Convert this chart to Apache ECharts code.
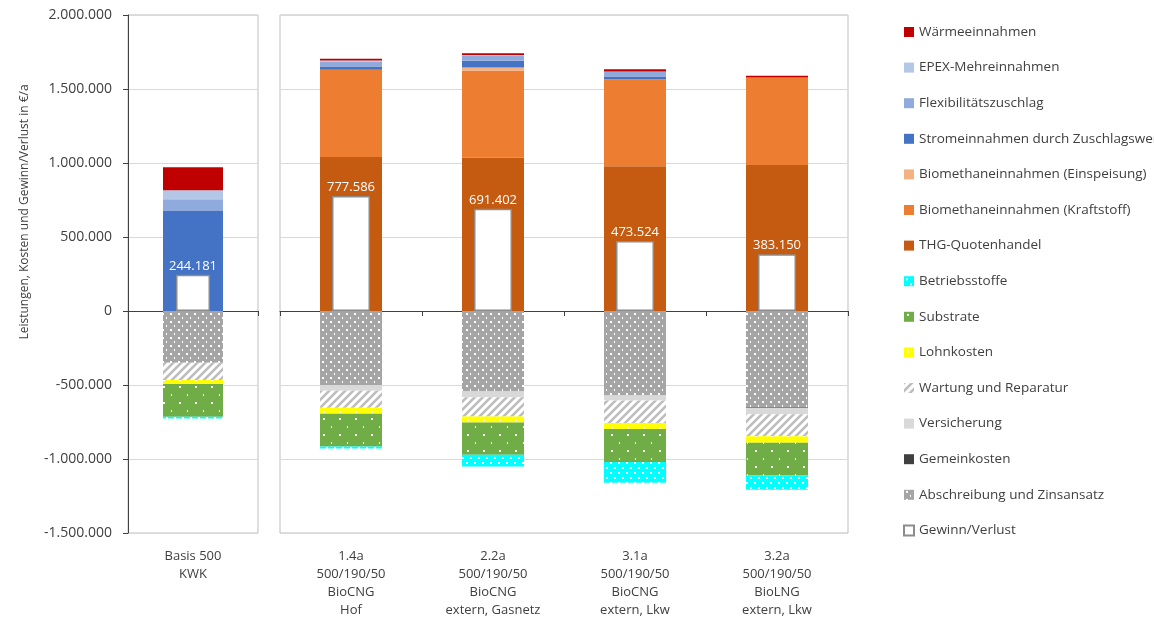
<!DOCTYPE html>
<html>
<head>
<meta charset="utf-8">
<script src="https://cdn.jsdelivr.net/npm/echarts@6/dist/echarts.min.js"></script>
<style>
  html, body { margin: 0; padding: 0; background: #fff; }
  #chart { width: 1154px; height: 620px; }
</style>
</head>
<body>
<div id="chart"></div>
<script>
// Kategorien: erste Säule im eigenen Diagrammbereich, die vier Varianten daneben
const categoriesBasis = ['Basis 500\nKWK'];
const categoriesVarianten = [
  '1.4a\n500/190/50\nBioCNG\nHof',
  '2.2a\n500/190/50\nBioCNG\nextern, Gasnetz',
  '3.1a\n500/190/50\nBioCNG\nextern, Lkw',
  '3.2a\n500/190/50\nBioLNG\nextern, Lkw'
];

// Werte in €/a, Reihenfolge: Basis, 1.4a, 2.2a, 3.1a, 3.2a
const thg          = [0, 1040000, 1035000, 978000, 987000];
const kraftstoff   = [0, 590000, 588000, 588000, 590000];
const einspeisung  = [0, 0, 23000, 0, 0];
const strom        = [676000, 22000, 45000, 18000, 0];
const flex         = [79000, 33000, 32000, 34000, 0];
const epex         = [61000, 8000, 7000, 0, 0];
const waerme       = [155000, 12000, 11000, 15000, 12000];

const abschreibung = [-349000, -500000, -540000, -571000, -652000];
const gemeinkosten = [0, 0, -3000, 0, -3000];
const versicherung = [0, -39000, -39000, -34000, -43000];
const wartung      = [-117000, -115000, -131000, -152000, -149000];
const lohnkosten   = [-27000, -41000, -41000, -41000, -43000];
const substrate    = [-221000, -220000, -217000, -222000, -222000];
const betrieb      = [-13000, -14000, -79000, -140000, -95000];

const gewinn       = [244181, 777586, 691402, 473524, 383150];

const yTicks = { min: -1500000, max: 2000000, step: 500000 };

// deutsche Tausendertrennung
function fmt(v) {
  const s = Math.abs(Math.round(v)).toString().replace(/\B(?=(\d{3})+(?!\d))/g, '.');
  return (v < 0 ? '-' : '') + s;
}

// Musterfüllungen (Punkte / Schraffur) wie im Excel-Original
function dotPattern(bg, w, h, dots) {
  const c = document.createElement('canvas');
  c.width = w; c.height = h;
  const ctx = c.getContext('2d');
  ctx.fillStyle = bg;
  ctx.fillRect(0, 0, w, h);
  ctx.fillStyle = '#ffffff';
  dots.forEach(d => ctx.fillRect(d[0], d[1], d[2], d[3]));
  return { image: c, repeat: 'repeat' };
}
function hatchPattern() {
  const c = document.createElement('canvas');
  c.width = 8; c.height = 8;
  const ctx = c.getContext('2d');
  ctx.fillStyle = '#ffffff';
  ctx.fillRect(0, 0, 8, 8);
  ctx.strokeStyle = '#BDBDBD';
  ctx.lineWidth = 2.6;
  [[0, 8, 8, 0], [-4, 4, 4, -4], [4, 12, 12, 4]].forEach(l => {
    ctx.beginPath(); ctx.moveTo(l[0], l[1]); ctx.lineTo(l[2], l[3]); ctx.stroke();
  });
  return { image: c, repeat: 'repeat' };
}

const fillAbschreibung = dotPattern('#A5A5A5', 8, 8, [[2, 1, 2, 2], [6, 5, 1, 2]]);
const fillSubstrate = dotPattern('#70AD47', 16, 16, [[3, 2, 2, 2], [11, 10, 1, 2]]);
const fillBetrieb = dotPattern('#00FFFF', 8, 10, [[2, 2, 2, 2], [6, 7, 2, 2]]);
const fillLohn = dotPattern('#FFFF00', 16, 8, [[3, 3, 2, 2]]);
const fillWartung = hatchPattern();

// Stapelreihenfolge: von der Nulllinie nach außen
const stackDefs = [
  ['THG-Quotenhandel', thg, '#C55A11'],
  ['Biomethaneinnahmen (Kraftstoff)', kraftstoff, '#ED7D31'],
  ['Biomethaneinnahmen (Einspeisung)', einspeisung, '#F4B183'],
  ['Stromeinnahmen durch Zuschlagswert', strom, '#4472C4'],
  ['Flexibilitätszuschlag', flex, '#8FAADC'],
  ['EPEX-Mehreinnahmen', epex, '#B4C7E7'],
  ['Wärmeeinnahmen', waerme, '#C00000'],
  ['Abschreibung und Zinsansatz', abschreibung, fillAbschreibung],
  ['Gemeinkosten', gemeinkosten, '#404040'],
  ['Versicherung', versicherung, '#D9D9D9'],
  ['Wartung und Reparatur', wartung, fillWartung],
  ['Lohnkosten', lohnkosten, fillLohn],
  ['Substrate', substrate, fillSubstrate],
  ['Betriebsstoffe', betrieb, fillBetrieb]
];

const legendOrder = [
  'Wärmeeinnahmen', 'EPEX-Mehreinnahmen', 'Flexibilitätszuschlag',
  'Stromeinnahmen durch Zuschlagswert', 'Biomethaneinnahmen (Einspeisung)',
  'Biomethaneinnahmen (Kraftstoff)', 'THG-Quotenhandel', 'Betriebsstoffe',
  'Substrate', 'Lohnkosten', 'Wartung und Reparatur', 'Versicherung',
  'Gemeinkosten', 'Abschreibung und Zinsansatz', 'Gewinn/Verlust'
];

const textColor = '#404040';
const font = 'Open Sans';

const series = [];
stackDefs.forEach(([name, values, color]) => {
  // linker Bereich (Basis)
  series.push({
    name, type: 'bar', stack: 'basis', xAxisIndex: 0, yAxisIndex: 0,
    barWidth: 60, itemStyle: { color }, data: values.slice(0, 1)
  });
  // rechter Bereich (Varianten)
  series.push({
    name, type: 'bar', stack: 'var', xAxisIndex: 1, yAxisIndex: 1,
    barWidth: 62, itemStyle: { color }, data: values.slice(1)
  });
});

const gewinnStyle = { color: '#ffffff', borderColor: '#8C8C8C', borderWidth: 1.5 };
const gewinnLabel = {
  show: true, position: 'top', distance: 2, color: '#ffffff',
  fontFamily: font, fontSize: 13, formatter: p => fmt(p.value)
};
series.push({
  name: 'Gewinn/Verlust', type: 'bar', xAxisIndex: 2, yAxisIndex: 0, z: 5,
  barWidth: 34, itemStyle: gewinnStyle, label: gewinnLabel, data: gewinn.slice(0, 1)
});
series.push({
  name: 'Gewinn/Verlust', type: 'bar', xAxisIndex: 3, yAxisIndex: 1, z: 5,
  barWidth: 38, itemStyle: gewinnStyle, label: gewinnLabel, data: gewinn.slice(1)
});

// Achse mit Nulllinie und Teilstrichen (ohne Beschriftung)
function zeroAxis(gridIndex, data) {
  return {
    type: 'category', gridIndex, data, position: 'bottom',
    axisLine: { onZero: true, lineStyle: { color: textColor, width: 1 } },
    axisTick: { show: true, length: 5, lineStyle: { color: textColor } },
    axisLabel: { show: false }, splitLine: { show: false }
  };
}
// Achse für Beschriftung unten und Gewinn-Säulen
function labelAxis(gridIndex, data) {
  return {
    type: 'category', gridIndex, data, position: 'bottom',
    axisLine: { show: false, onZero: false }, axisTick: { show: false },
    axisLabel: {
      interval: 0, margin: 14, color: textColor, fontFamily: font,
      fontSize: 13, lineHeight: 18
    },
    splitLine: { show: false }
  };
}

const chart = echarts.init(document.getElementById('chart'));
const option = {
  animation: false,
  tooltip: { trigger: 'axis', axisPointer: { type: 'shadow' } },
  legend: {
    data: legendOrder,
    orient: 'vertical',
    left: 903, top: 25, padding: 0,
    itemWidth: 10, itemHeight: 10, itemGap: 21.6,
    icon: 'rect',
    textStyle: { color: textColor, fontFamily: font, fontSize: 13.5, lineHeight: 14 }
  },
  grid: [
    { left: 128, top: 15, width: 130, height: 518, show: true, borderColor: '#BFBFBF', borderWidth: 1 },
    { left: 280, top: 15, width: 568, height: 518, show: true, borderColor: '#BFBFBF', borderWidth: 1 }
  ],
  xAxis: [
    zeroAxis(0, categoriesBasis),
    zeroAxis(1, categoriesVarianten),
    labelAxis(0, categoriesBasis),
    labelAxis(1, categoriesVarianten)
  ],
  yAxis: [
    {
      type: 'value', gridIndex: 0,
      min: yTicks.min, max: yTicks.max, interval: yTicks.step,
      name: 'Leistungen, Kosten und Gewinn/Verlust in €/a',
      nameLocation: 'middle', nameGap: 97,
      nameTextStyle: { color: textColor, fontFamily: font, fontSize: 12, padding: [0, 0, 0, 124] },
      axisLine: { show: true, lineStyle: { color: textColor } },
      axisTick: { show: true, length: 5, lineStyle: { color: textColor } },
      axisLabel: { color: textColor, fontFamily: font, fontSize: 14, margin: 16, formatter: v => fmt(v) },
      splitLine: { lineStyle: { color: '#D9D9D9' } }
    },
    {
      type: 'value', gridIndex: 1,
      min: yTicks.min, max: yTicks.max, interval: yTicks.step,
      axisLine: { show: false }, axisTick: { show: false }, axisLabel: { show: false },
      splitLine: { lineStyle: { color: '#D9D9D9' } }
    }
  ],
  series
};
chart.setOption(option);
window.addEventListener('resize', () => chart.resize());
</script>
</body>
</html>
